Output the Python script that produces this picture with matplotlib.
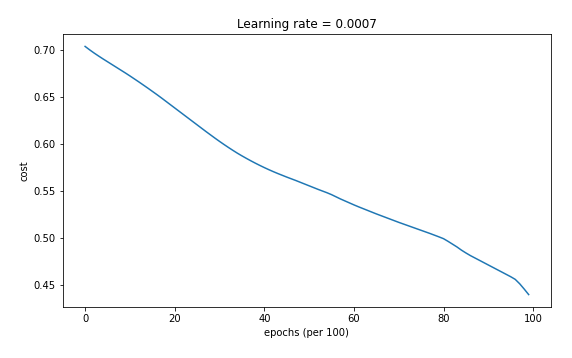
import numpy as np
import matplotlib
matplotlib.use("Agg")
import matplotlib.pyplot as plt

costs = [0.7035, 0.6999, 0.6965, 0.6933, 0.6902, 0.6872, 0.6842, 0.6812, 0.6782, 0.6752,
         0.6721, 0.6689, 0.6657, 0.6624, 0.6591, 0.6557, 0.6523, 0.6488, 0.6452, 0.6416,
         0.6380, 0.6344, 0.6308, 0.6272, 0.6236, 0.6200, 0.6164, 0.6128, 0.6093, 0.6058,
         0.6024, 0.5991, 0.5959, 0.5928, 0.5898, 0.5870, 0.5843, 0.5817, 0.5792, 0.5768,
         0.5745, 0.5723, 0.5702, 0.5682, 0.5663, 0.5644, 0.5626, 0.5608, 0.5589, 0.5570,
         0.5551, 0.5532, 0.5513, 0.5495, 0.5477, 0.5457, 0.5434, 0.5411, 0.5390, 0.5369,
         0.5348, 0.5328, 0.5309, 0.5290, 0.5271, 0.5252, 0.5234, 0.5216, 0.5198, 0.5180,
         0.5162, 0.5145, 0.5128, 0.5111, 0.5094, 0.5077, 0.5060, 0.5043, 0.5025, 0.5007,
         0.4988, 0.4960, 0.4930, 0.4900, 0.4866, 0.4836, 0.4808, 0.4783, 0.4758, 0.4733,
         0.4708, 0.4683, 0.4658, 0.4633, 0.4608, 0.4583, 0.4555, 0.4508, 0.4452, 0.4393]
learning_rate = 0.0007

fig = plt.figure(figsize=(572 / 72, 358 / 72), dpi=72)
ax = fig.add_axes([0.110, 0.1425, 0.853, 0.7625])

ax.plot(np.squeeze(costs))
ax.set_ylabel('cost')
ax.set_xlabel('epochs (per 100)')
ax.set_title("Learning rate = " + str(learning_rate))

fig.savefig('out.png', dpi=72)
